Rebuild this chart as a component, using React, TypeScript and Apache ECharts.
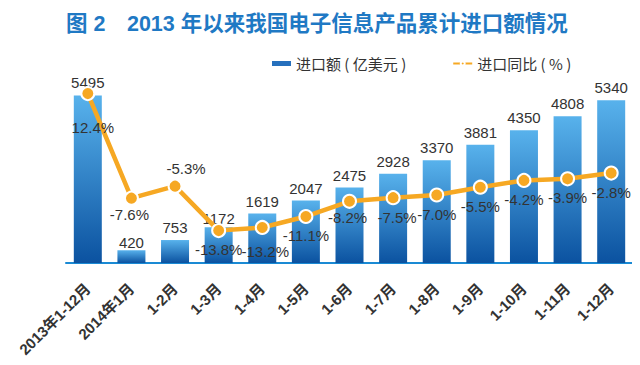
import React, { useEffect, useRef } from "react";
import * as echarts from "echarts";

const categories = [
  "2013年1-12月", "2014年1月", "1-2月", "1-3月", "1-4月", "1-5月", "1-6月",
  "1-7月", "1-8月", "1-9月", "1-10月", "1-11月", "1-12月",
];
const importValues = [5495, 420, 753, 1172, 1619, 2047, 2475, 2928, 3370, 3881, 4350, 4808, 5340];
const yoyValues = [12.4, -7.6, -5.3, -13.8, -13.2, -11.1, -8.2, -7.5, -7.0, -5.5, -4.2, -3.9, -2.8];
const barName = "进口额 ( 亿美元 )";
const lineName = "进口同比 ( % )";
const titleText = "图 2　2013 年以来我国电子信息产品累计进口额情况";

const FONT = "'Liberation Sans', 'Noto Sans CJK SC', sans-serif";

export default function App() {
  const ref = useRef<HTMLDivElement>(null);
  useEffect(() => {
    if (!ref.current) return;
    const chart = echarts.init(ref.current, null, { renderer: "svg" });
    const barGrad = new echarts.graphic.LinearGradient(0, 0, 0, 1, [
      { offset: 0, color: "#58b2ec" },
      { offset: 1, color: "#0b52a0" },
    ]);
    const barData = importValues.map((v, i) => {
      const item: any = { value: v };
      if (i === 1) item.label = { distance: 0 };
      if (i === 3) item.label = { distance: 1 };
      return item;
    });
    const lineData = yoyValues.map((v, i) => {
      const item: any = { value: v };
      if (i === 0) item.label = { position: "bottom", distance: 19, offset: [5, 0] };
      else if (i === 2) item.label = { position: "top", distance: 3, offset: [11, 0] };
      else if (i === 1 || i === 6) item.label = { position: "bottom", distance: 1, offset: [-2, 0] };
      else if (i === 4) item.label = { position: "bottom", distance: 9, offset: [3, 0] };
      else if (i === 7) item.label = { position: "bottom", distance: 5, offset: [4, 0] };
      return item;
    });
    chart.setOption({
      animation: false,
      backgroundColor: "#ffffff",
      title: {
        text: titleText,
        left: 66,
        top: 13,
        padding: 0,
        textStyle: { fontFamily: FONT, fontSize: 21.5, fontWeight: "bold", color: "#1f79c4" },
      },
      legend: {
        left: 272,
        top: 56,
        padding: 0,
        itemWidth: 19,
        itemHeight: 5,
        itemGap: 46,
        textStyle: { fontFamily: "'Noto Sans CJK SC', sans-serif", fontSize: 15, color: "#333" },
        data: [
          { name: barName, icon: "rect", itemStyle: { color: "#2670bd" } },
          { name: lineName },
        ],
      },
      grid: { left: 66, right: 7, top: 80, bottom: 102 },
      xAxis: {
        type: "category",
        data: categories,
        axisLine: { show: true, lineStyle: { color: "#1a8ad4", width: 2 } },
        axisTick: { show: false },
        axisLabel: {
          rotate: 45,
          margin: 23,
          interval: 0,
          fontFamily: FONT,
          fontSize: 15,
          fontWeight: "bold",
          color: "#333",
        },
      },
      yAxis: [
        { type: "value", min: 0, max: 6000, show: false, splitLine: { show: false } },
        { type: "value", min: -20, max: 15, show: false, splitLine: { show: false } },
      ],
      series: [
        {
          name: barName,
          type: "bar",
          data: barData,
          barWidth: 28,
          itemStyle: { color: barGrad },
          label: {
            show: true,
            position: "top",
            distance: 5,
            fontFamily: FONT,
            fontSize: 15,
            color: "#333",
          },
          z: 2,
        },
        {
          name: lineName,
          type: "line",
          yAxisIndex: 1,
          data: lineData,
          symbol: "circle",
          symbolSize: 13,
          lineStyle: { color: "#f6a823", width: 4.5 },
          itemStyle: { color: "#f6a823", borderColor: "#ffffff", borderWidth: 2 },
          label: {
            show: true,
            position: "bottom",
            distance: 4,
            formatter: (p: any) => p.value.toFixed(1) + "%",
            fontFamily: FONT,
            fontSize: 15,
            color: "#333",
          },
          z: 5,
        },
      ],
    });
    return () => chart.dispose();
  }, []);
  return <div ref={ref} style={{ width: 640, height: 365, margin: -8 }} />;
}
